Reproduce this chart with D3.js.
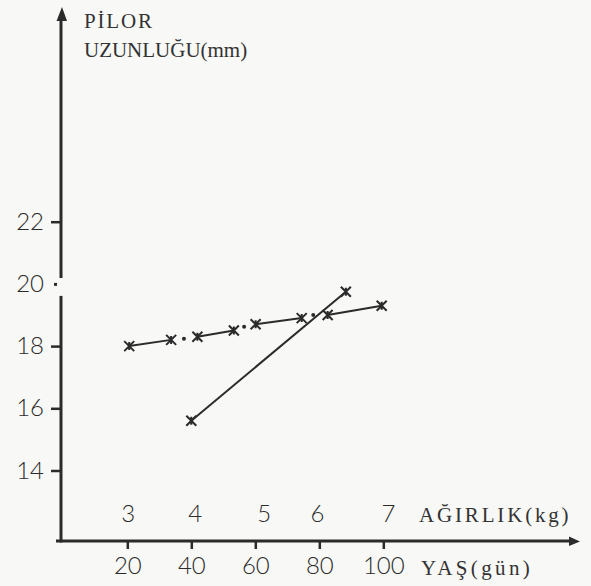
<!DOCTYPE html>
<html>
<head>
<meta charset="utf-8">
<script src="https://cdn.jsdelivr.net/npm/d3@7"></script>
<style>
  html, body { margin: 0; padding: 0; background: #f8f8f6; }
  svg { display: block; }
</style>
</head>
<body>
<svg class="main-graphic"></svg>
<script>
// ages (gün) and pylorus lengths (mm)
var agePairs1 = [[20.6, 33.7], [41.9, 53.3], [60.1, 74.5], [82.6, 99.5]];
var lenPairs1 = [[18.0, 18.2], [18.3, 18.5], [18.7, 18.9], [19.0, 19.3]];
var gapDotAges = [37.7, 56.5, 78.1];
var gapDotLens = [18.24, 18.62, 19.0];
var ages2 = [40, 88.3];
var lens2 = [15.6, 19.75];

var ageTicks = [20, 40, 60, 80, 100];
var lenTicks = [14, 16, 18, 20, 22];
var weightLabels = ["3", "4", "5", "6", "7"];
var weightAges = [20.3, 41.2, 62.8, 79.4, 101.6];

var W = 591, H = 586;
var ink = "#2b2b2b";
var numFont = "Lato, 'Open Sans', sans-serif";
var txtFont = "'Liberation Serif', 'DejaVu Serif', serif";

var svg = d3.select(".main-graphic")
    .attr("width", W)
    .attr("height", H);

var x = d3.scaleLinear().domain([20, 100]).range([127.3, 383.3]);
var y = d3.scaleLinear().domain([14, 22]).range([470.5, 221.7]);

var axisX = 61, axisY = 541;

// y axis, broken just above 20
svg.append("line")
    .attr("x1", axisX).attr("x2", axisX)
    .attr("y1", 18).attr("y2", y(20) - 6)
    .attr("stroke", ink).attr("stroke-width", 3);
svg.append("line")
    .attr("x1", axisX).attr("x2", axisX)
    .attr("y1", y(20) + 12).attr("y2", axisY + 1.5)
    .attr("stroke", ink).attr("stroke-width", 3);
svg.append("path")
    .attr("d", "M" + (axisX + 1) + ",7 L" + (axisX - 4.5) + ",21 L" + (axisX + 6) + ",21 Z")
    .attr("fill", ink);

// x axis
svg.append("line")
    .attr("x1", 56).attr("x2", 572)
    .attr("y1", axisY).attr("y2", axisY)
    .attr("stroke", ink).attr("stroke-width", 3);
svg.append("path")
    .attr("d", "M580," + (axisY + 0.5) + " L569," + (axisY - 4.5) + " L569," + (axisY + 5) + " Z")
    .attr("fill", ink);

// age ticks below the axis
var gx = svg.append("g")
    .attr("transform", "translate(0," + axisY + ")")
    .call(d3.axisBottom(x).tickValues(ageTicks).tickSize(8).tickSizeOuter(0).tickPadding(8));
gx.select(".domain").remove();
gx.selectAll(".tick line").attr("stroke", ink).attr("stroke-width", 2.5);
gx.selectAll(".tick text")
    .attr("fill", ink).attr("font-family", numFont).attr("font-weight", 300).attr("font-size", 24);

// length ticks left of the axis
var gy = svg.append("g")
    .attr("transform", "translate(" + axisX + ",0)")
    .call(d3.axisLeft(y).tickValues(lenTicks).tickSize(10).tickSizeOuter(0).tickPadding(7));
gy.select(".domain").remove();
gy.selectAll(".tick line").attr("stroke", ink).attr("stroke-width", 2.5);
gy.selectAll(".tick text")
    .attr("fill", ink).attr("font-family", numFont).attr("font-weight", 300).attr("font-size", 24);
// the 20 tick is only a dot at the break
gy.selectAll(".tick").filter(function(d) { return d === 20; })
    .select("line").attr("x1", -7).attr("x2", -4).attr("stroke-width", 3);

// weight labels above the axis
svg.append("g").selectAll("text")
    .data(weightLabels)
  .enter().append("text")
    .attr("x", function(d, i) { return x(weightAges[i]); })
    .attr("y", 522)
    .attr("text-anchor", "middle")
    .attr("fill", ink)
    .attr("font-family", numFont)
    .attr("font-weight", 300)
    .attr("font-size", 24)
    .text(function(d) { return d; });

// axis titles
var titles = [
  {t: "PİLOR", x: 84, y: 28},
  {t: "UZUNLUĞU(mm)", x: 84, y: 57},
  {t: "AĞIRLIK(kg)", x: 419, y: 522},
  {t: "YAŞ(gün)", x: 421, y: 575}
];
svg.append("g").selectAll("text")
    .data(titles)
  .enter().append("text")
    .attr("x", function(d) { return d.x; })
    .attr("y", function(d) { return d.y; })
    .attr("fill", "#333")
    .attr("font-family", txtFont)
    .attr("font-size", 21)
    .attr("textLength", function(d) { return d.t.length * 13.6; })
    .attr("lengthAdjust", "spacing")
    .text(function(d) { return d.t; });

// series 1: solid pairs with a dot in each gap
var pairs = agePairs1.map(function(a, i) {
  return [[a[0], lenPairs1[i][0]], [a[1], lenPairs1[i][1]]];
});
var line = d3.line()
    .x(function(d) { return x(d[0]); })
    .y(function(d) { return y(d[1]); });

svg.append("g").selectAll("path")
    .data(pairs)
  .enter().append("path")
    .attr("d", line)
    .attr("fill", "none")
    .attr("stroke", ink)
    .attr("stroke-width", 2);

svg.append("g").selectAll("circle")
    .data(gapDotAges)
  .enter().append("circle")
    .attr("cx", function(d) { return x(d); })
    .attr("cy", function(d, i) { return y(gapDotLens[i]); })
    .attr("r", 2)
    .attr("fill", ink);

// series 2
var pts2 = ages2.map(function(a, i) { return [a, lens2[i]]; });
svg.append("path")
    .datum(pts2)
    .attr("d", line)
    .attr("fill", "none")
    .attr("stroke", ink)
    .attr("stroke-width", 2);

// cross markers
var marks = d3.merge(pairs).concat(pts2);
svg.append("g").selectAll("path")
    .data(marks)
  .enter().append("path")
    .attr("transform", function(d) { return "translate(" + x(d[0]) + "," + y(d[1]) + ")"; })
    .attr("d", "M-5,-5L5,5M5,-5L-5,5M0,-4L0,4")
    .attr("stroke", ink)
    .attr("stroke-width", 2)
    .attr("fill", "none");
</script>
</body>
</html>
